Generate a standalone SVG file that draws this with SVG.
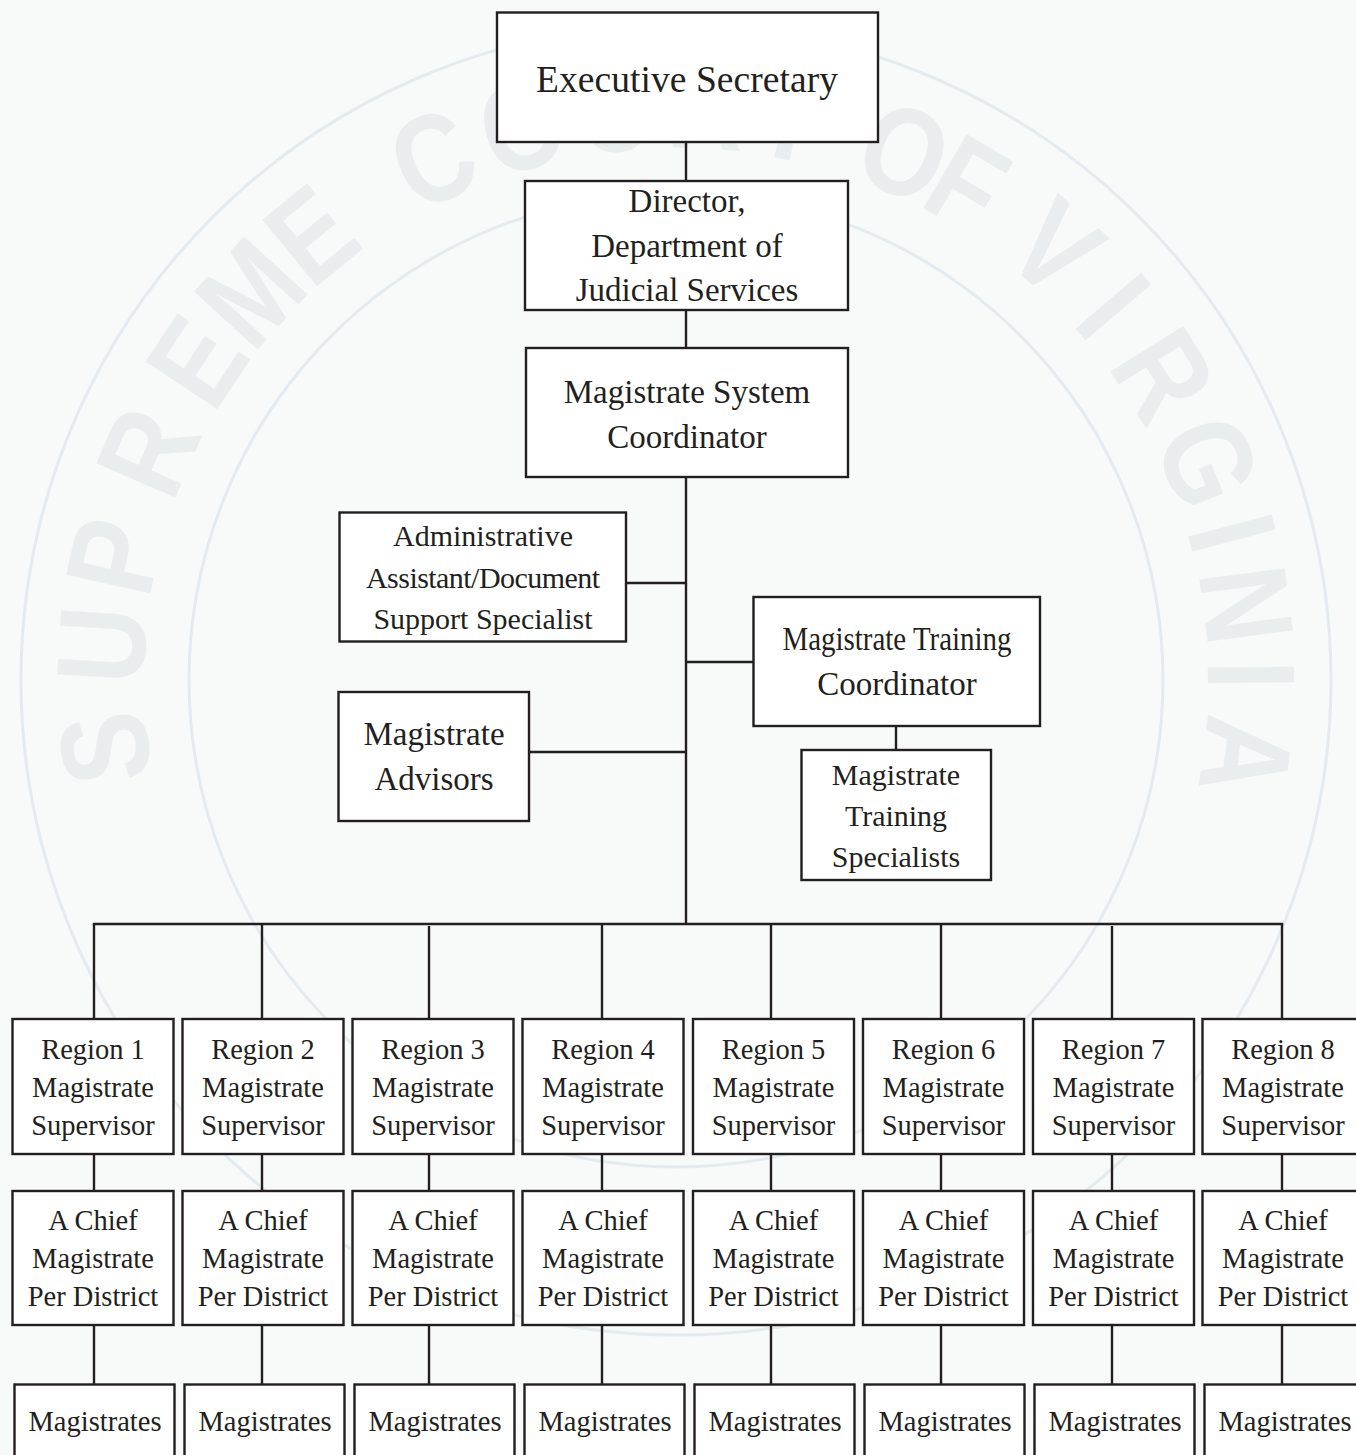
<svg xmlns="http://www.w3.org/2000/svg" width="1356" height="1455" viewBox="0 0 1356 1455">
<style>
.box{fill:#ffffff;stroke:#231f20;stroke-width:2.4}
.t{font-family:"Liberation Serif","Times New Roman",serif;fill:#231f20;text-anchor:middle}
.s28{font-size:28.5px}
.s30{font-size:30px}
.s33{font-size:33px}
.conn line{stroke:#231f20;stroke-width:2.4}
.wm text{font-family:"Liberation Sans",Arial,sans-serif;font-weight:bold;font-size:125px;fill:#eaeded;text-anchor:middle}
.ring{fill:none;stroke:#e4ebef;stroke-width:3}
</style>
<rect x="0" y="0" width="1356" height="1455" fill="#f8f9f9"/>
<g id="watermark" class="wm">
<circle class="ring" cx="676" cy="680" r="655"/>
<circle class="ring" cx="676" cy="680" r="487"/>
<text transform="translate(676 680) rotate(-96.8) translate(0 -532) scale(0.85 1)">S</text>
<text transform="translate(676 680) rotate(-86.5) translate(0 -532) scale(0.85 1)">U</text>
<text transform="translate(676 680) rotate(-77.6) translate(0 -532) scale(0.85 1)">P</text>
<text transform="translate(676 680) rotate(-66.6) translate(0 -532) scale(0.85 1)">R</text>
<text transform="translate(676 680) rotate(-56.4) translate(0 -532) scale(0.85 1)">E</text>
<text transform="translate(676 680) rotate(-47.7) translate(0 -532) scale(0.85 1)">M</text>
<text transform="translate(676 680) rotate(-39.3) translate(0 -532) scale(0.85 1)">E</text>
<text transform="translate(676 680) rotate(-25) translate(0 -532) scale(0.85 1)">C</text>
<text transform="translate(676 680) rotate(-15.5) translate(0 -532) scale(0.85 1)">O</text>
<text transform="translate(676 680) rotate(-6) translate(0 -532) scale(0.85 1)">U</text>
<text transform="translate(676 680) rotate(3) translate(0 -532) scale(0.85 1)">R</text>
<text transform="translate(676 680) rotate(11.5) translate(0 -532) scale(0.85 1)">T</text>
<text transform="translate(676 680) rotate(23.4) translate(0 -532) scale(0.85 1)">O</text>
<text transform="translate(676 680) rotate(30.4) translate(0 -532) scale(0.85 1)">F</text>
<text transform="translate(676 680) rotate(41.3) translate(0 -532) scale(0.85 1)">V</text>
<text transform="translate(676 680) rotate(49.5) translate(0 -532) scale(0.85 1)">I</text>
<text transform="translate(676 680) rotate(58) translate(0 -532) scale(0.85 1)">R</text>
<text transform="translate(676 680) rotate(67.7) translate(0 -532) scale(0.85 1)">G</text>
<text transform="translate(676 680) rotate(75.2) translate(0 -532) scale(0.85 1)">I</text>
<text transform="translate(676 680) rotate(82.5) translate(0 -532) scale(0.85 1)">N</text>
<text transform="translate(676 680) rotate(89.5) translate(0 -532) scale(0.85 1)">I</text>
<text transform="translate(676 680) rotate(97.6) translate(0 -532) scale(0.85 1)">A</text>
</g>
<g id="connectors" class="conn">
<line x1="686" y1="142" x2="686" y2="181"/>
<line x1="686" y1="310" x2="686" y2="348"/>
<line x1="686" y1="477" x2="686" y2="925"/>
<line x1="626" y1="583" x2="686" y2="583"/>
<line x1="686" y1="662" x2="753" y2="662"/>
<line x1="529" y1="752" x2="686" y2="752"/>
<line x1="896" y1="726" x2="896" y2="750"/>
<line x1="92.8" y1="924" x2="1283.2" y2="924"/>
<line x1="94" y1="924" x2="94" y2="1019"/>
<line x1="262" y1="924" x2="262" y2="1019"/>
<line x1="429" y1="926" x2="429" y2="1019"/>
<line x1="602" y1="924" x2="602" y2="1019"/>
<line x1="771" y1="924" x2="771" y2="1019"/>
<line x1="941" y1="924" x2="941" y2="1019"/>
<line x1="1112" y1="926" x2="1112" y2="1019"/>
<line x1="1282" y1="924" x2="1282" y2="1019"/>
<line x1="94" y1="1154" x2="94" y2="1191"/>
<line x1="262" y1="1154" x2="262" y2="1191"/>
<line x1="429" y1="1154" x2="429" y2="1191"/>
<line x1="602" y1="1154" x2="602" y2="1191"/>
<line x1="771" y1="1154" x2="771" y2="1191"/>
<line x1="941" y1="1154" x2="941" y2="1191"/>
<line x1="1112" y1="1154" x2="1112" y2="1191"/>
<line x1="1282" y1="1154" x2="1282" y2="1191"/>
<line x1="94" y1="1325" x2="94" y2="1384"/>
<line x1="262" y1="1325" x2="262" y2="1384"/>
<line x1="429" y1="1325" x2="429" y2="1384"/>
<line x1="602" y1="1325" x2="602" y2="1384"/>
<line x1="771" y1="1325" x2="771" y2="1384"/>
<line x1="941" y1="1325" x2="941" y2="1384"/>
<line x1="1112" y1="1325" x2="1112" y2="1384"/>
<line x1="1282" y1="1325" x2="1282" y2="1384"/>
</g>
<g id="executive-secretary">
<rect class="box" x="497" y="12.5" width="381" height="129.5"/>
<text class="t" x="687" y="92" font-size="37.5" textLength="302">Executive Secretary</text>
</g>
<g id="director">
<rect class="box" x="525" y="181" width="323" height="129"/>
<text class="t s33" x="687" y="212">Director,</text>
<text class="t s33" x="687" y="257">Department of</text>
<text class="t s33" x="687" y="301">Judicial Services</text>
</g>
<g id="magistrate-system-coordinator">
<rect class="box" x="526" y="348" width="322" height="129"/>
<text class="t s33" x="687" y="403">Magistrate System</text>
<text class="t s33" x="687" y="448">Coordinator</text>
</g>
<g id="administrative-assistant">
<rect class="box" x="339.5" y="512.5" width="286.5" height="129"/>
<text class="t s30" x="483" y="546">Administrative</text>
<text class="t s30" x="483" y="588" textLength="234">Assistant/Document</text>
<text class="t s30" x="483" y="629">Support Specialist</text>
</g>
<g id="magistrate-training-coordinator">
<rect class="box" x="753.5" y="597" width="286.5" height="129"/>
<text class="t s33" x="897" y="650" textLength="229" lengthAdjust="spacingAndGlyphs">Magistrate Training</text>
<text class="t s33" x="897" y="695">Coordinator</text>
</g>
<g id="magistrate-advisors">
<rect class="box" x="338.5" y="692" width="190.5" height="129"/>
<text class="t s33" x="434" y="745">Magistrate</text>
<text class="t s33" x="434" y="790">Advisors</text>
</g>
<g id="magistrate-training-specialists">
<rect class="box" x="801.5" y="750" width="189.5" height="130"/>
<text class="t s30" x="896" y="785">Magistrate</text>
<text class="t s30" x="896" y="826">Training</text>
<text class="t s30" x="896" y="867">Specialists</text>
</g>
<g id="region-1">
<rect class="box" x="12.5" y="1019" width="161" height="135"/>
<text class="t s28" x="93" y="1059">Region 1</text><text class="t s28" x="93" y="1097">Magistrate</text><text class="t s28" x="93" y="1135">Supervisor</text>
</g>
<g id="region-2">
<rect class="box" x="182.5" y="1019" width="161" height="135"/>
<text class="t s28" x="263" y="1059">Region 2</text><text class="t s28" x="263" y="1097">Magistrate</text><text class="t s28" x="263" y="1135">Supervisor</text>
</g>
<g id="region-3">
<rect class="box" x="352.5" y="1019" width="161" height="135"/>
<text class="t s28" x="433" y="1059">Region 3</text><text class="t s28" x="433" y="1097">Magistrate</text><text class="t s28" x="433" y="1135">Supervisor</text>
</g>
<g id="region-4">
<rect class="box" x="522.5" y="1019" width="161" height="135"/>
<text class="t s28" x="603" y="1059">Region 4</text><text class="t s28" x="603" y="1097">Magistrate</text><text class="t s28" x="603" y="1135">Supervisor</text>
</g>
<g id="region-5">
<rect class="box" x="693" y="1019" width="161" height="135"/>
<text class="t s28" x="773.5" y="1059">Region 5</text><text class="t s28" x="773.5" y="1097">Magistrate</text><text class="t s28" x="773.5" y="1135">Supervisor</text>
</g>
<g id="region-6">
<rect class="box" x="863" y="1019" width="161" height="135"/>
<text class="t s28" x="943.5" y="1059">Region 6</text><text class="t s28" x="943.5" y="1097">Magistrate</text><text class="t s28" x="943.5" y="1135">Supervisor</text>
</g>
<g id="region-7">
<rect class="box" x="1033" y="1019" width="161" height="135"/>
<text class="t s28" x="1113.5" y="1059">Region 7</text><text class="t s28" x="1113.5" y="1097">Magistrate</text><text class="t s28" x="1113.5" y="1135">Supervisor</text>
</g>
<g id="region-8">
<rect class="box" x="1202.5" y="1019" width="161" height="135"/>
<text class="t s28" x="1283" y="1059">Region 8</text><text class="t s28" x="1283" y="1097">Magistrate</text><text class="t s28" x="1283" y="1135">Supervisor</text>
</g>
<g id="chief-1">
<rect class="box" x="12.5" y="1191" width="161" height="134"/>
<text class="t s28" x="93" y="1230">A Chief</text><text class="t s28" x="93" y="1268">Magistrate</text><text class="t s28" x="93" y="1306">Per District</text>
</g>
<g id="chief-2">
<rect class="box" x="182.5" y="1191" width="161" height="134"/>
<text class="t s28" x="263" y="1230">A Chief</text><text class="t s28" x="263" y="1268">Magistrate</text><text class="t s28" x="263" y="1306">Per District</text>
</g>
<g id="chief-3">
<rect class="box" x="352.5" y="1191" width="161" height="134"/>
<text class="t s28" x="433" y="1230">A Chief</text><text class="t s28" x="433" y="1268">Magistrate</text><text class="t s28" x="433" y="1306">Per District</text>
</g>
<g id="chief-4">
<rect class="box" x="522.5" y="1191" width="161" height="134"/>
<text class="t s28" x="603" y="1230">A Chief</text><text class="t s28" x="603" y="1268">Magistrate</text><text class="t s28" x="603" y="1306">Per District</text>
</g>
<g id="chief-5">
<rect class="box" x="693" y="1191" width="161" height="134"/>
<text class="t s28" x="773.5" y="1230">A Chief</text><text class="t s28" x="773.5" y="1268">Magistrate</text><text class="t s28" x="773.5" y="1306">Per District</text>
</g>
<g id="chief-6">
<rect class="box" x="863" y="1191" width="161" height="134"/>
<text class="t s28" x="943.5" y="1230">A Chief</text><text class="t s28" x="943.5" y="1268">Magistrate</text><text class="t s28" x="943.5" y="1306">Per District</text>
</g>
<g id="chief-7">
<rect class="box" x="1033" y="1191" width="161" height="134"/>
<text class="t s28" x="1113.5" y="1230">A Chief</text><text class="t s28" x="1113.5" y="1268">Magistrate</text><text class="t s28" x="1113.5" y="1306">Per District</text>
</g>
<g id="chief-8">
<rect class="box" x="1202.5" y="1191" width="161" height="134"/>
<text class="t s28" x="1283" y="1230">A Chief</text><text class="t s28" x="1283" y="1268">Magistrate</text><text class="t s28" x="1283" y="1306">Per District</text>
</g>
<g id="magistrates-1"><rect class="box" x="14.5" y="1384.5" width="160" height="100"/><text class="t s28" x="95" y="1431">Magistrates</text></g>
<g id="magistrates-2"><rect class="box" x="184.5" y="1384.5" width="160" height="100"/><text class="t s28" x="265" y="1431">Magistrates</text></g>
<g id="magistrates-3"><rect class="box" x="354.5" y="1384.5" width="160" height="100"/><text class="t s28" x="435" y="1431">Magistrates</text></g>
<g id="magistrates-4"><rect class="box" x="524.5" y="1384.5" width="160" height="100"/><text class="t s28" x="605" y="1431">Magistrates</text></g>
<g id="magistrates-5"><rect class="box" x="694.5" y="1384.5" width="160" height="100"/><text class="t s28" x="775" y="1431">Magistrates</text></g>
<g id="magistrates-6"><rect class="box" x="864.5" y="1384.5" width="160" height="100"/><text class="t s28" x="945" y="1431">Magistrates</text></g>
<g id="magistrates-7"><rect class="box" x="1034.5" y="1384.5" width="160" height="100"/><text class="t s28" x="1115" y="1431">Magistrates</text></g>
<g id="magistrates-8"><rect class="box" x="1204.5" y="1384.5" width="160" height="100"/><text class="t s28" x="1285" y="1431">Magistrates</text></g>
</svg>
